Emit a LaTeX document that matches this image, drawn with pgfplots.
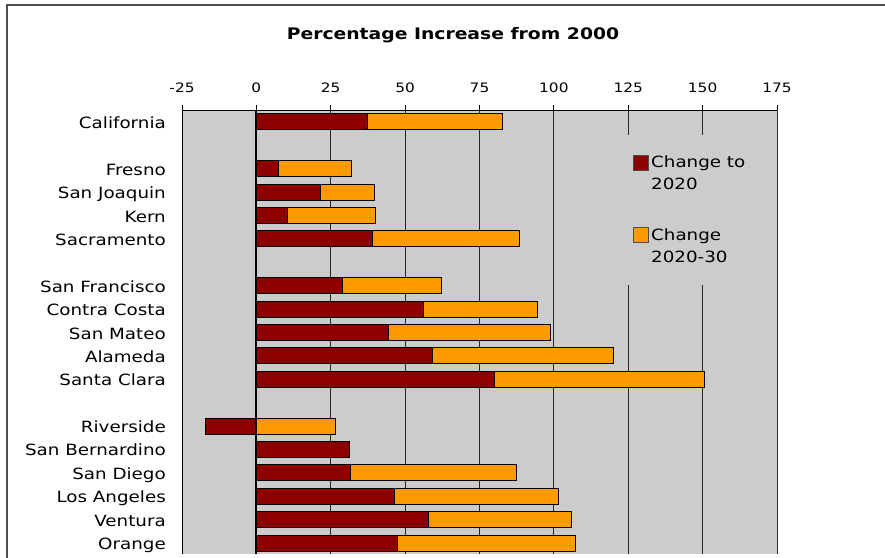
\documentclass[border=0pt]{standalone}
\usepackage{fontspec}
\setmainfont{DejaVu Sans}[FakeStretch=1.18]
\usepackage{pgfplots}
\usepackage{pgfplotstable}
\pgfplotsset{compat=1.18}
\definecolor{bggray}{HTML}{CCCCCC}
\definecolor{dred}{RGB}{140,0,0}
\definecolor{orng}{HTML}{FF9900}
\pgfplotstableread{
y red orange
18 37.5 45.3
16 7.3 24.8
15 21.5 18.2
14 10.4 29.8
13 39.2 49.1
11 29.1 33.1
10 56.2 38.4
9 44.4 54.5
8 59.3 60.8
7 80.0 70.5
5 -17.1 26.7
4 31.4 0
3 31.6 55.8
2 46.3 55.4
1 57.7 48.3
0 47.3 60.1
}\datatable
\begin{document}
\begin{tikzpicture}[x=1bp,y=1bp]
\useasboundingbox (0bp,0bp) rectangle (885bp,558bp);
\draw[black!70, line width=1.5bp] (7bp,0bp) -- (7bp,553bp) -- (885bp,553bp);
\node[anchor=base, font=\bfseries\fontsize{15.9bp}{18bp}\selectfont, inner sep=0pt] at (453bp,518bp) {Percentage Increase from 2000};
\begin{axis}[
  at={(182bp,4bp)}, anchor=south west,
  width=595bp, height=444bp, scale only axis,
  xmin=-25, xmax=175, ymin=-0.47, ymax=18.513,
  axis line style={draw=none},
  axis background/.style={fill=bggray},
  xtick={-25,0,25,50,75,100,125,150,175},
  xtick pos=right, xticklabel pos=right,
  tick align=outside, major tick length=5bp,
  tick style={black, line width=0.8bp},
  /pgf/number format/assume math mode=true,
  xticklabel style={font=\fontsize{13bp}{15bp}\selectfont, anchor=base, yshift=12bp, inner sep=0pt},
  ytick={0,1,2,3,4,5,7,8,9,10,11,13,14,15,16,18},
  yticklabels={Orange,Ventura,Los Angeles,San Diego,San Bernardino,Riverside,Santa Clara,Alameda,San Mateo,Contra Costa,San Francisco,Sacramento,Kern,San Joaquin,Fresno,California},
  ytick style={draw=none},
  yticklabel style={font=\fontsize{15.5bp}{18bp}\selectfont, anchor=base east, inner sep=0pt, xshift=-11bp, yshift=-6.5bp},
  xmajorgrids, grid style={black!85, line width=0.8bp},
  xbar, bar width=16bp, bar shift=0pt,
  reverse legend,
  legend style={draw=none, fill=bggray, at={(axis cs:124.3,17.444)}, anchor=north west,
    inner xsep=7bp, inner ysep=19bp, row sep=33bp,
    font=\fontsize{15.5bp}{22bp}\selectfont,
    cells={anchor=west, align=left},
    /tikz/every even column/.append style={column sep=2bp}},
]
\addplot[fill=orng, draw=black, line width=1bp,
  legend image code/.code={\draw[fill=orng, draw=black!70, line width=0.8bp] (0bp,3.5bp) rectangle (15bp,18.5bp);}]
  table[x expr={max(\thisrow{red},0)+\thisrow{orange}}, y=y] {\datatable};
\addlegendentry{Change\\2020-30}
\addplot[fill=dred, draw=black, line width=1bp,
  legend image code/.code={\draw[fill=dred, draw=black!70, line width=0.8bp] (0bp,3.5bp) rectangle (15bp,18.5bp);}]
  table[x=red, y=y] {\datatable};
\addlegendentry{Change to\\2020}
\draw[black, line width=2.2bp] (axis cs:0,-0.47) -- (axis cs:0,18.513);
\draw[black, line width=0.8bp] (rel axis cs:0,0) -- (rel axis cs:0,1) -- (rel axis cs:1,1);
\draw[gray, line width=1bp] (rel axis cs:1,1) -- (rel axis cs:1,0);
\end{axis}
\end{tikzpicture}
\end{document}
